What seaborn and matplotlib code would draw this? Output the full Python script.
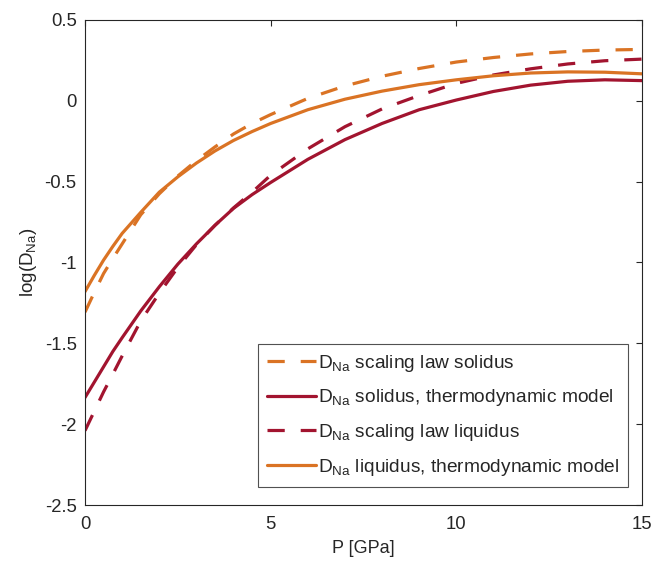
import numpy as np
import pandas as pd
import seaborn as sns
import matplotlib
matplotlib.use("Agg")
import matplotlib.pyplot as plt

# Pressure samples [GPa]
pressure = [0, 0.25, 0.5, 0.75, 1, 1.5, 2, 2.5, 3, 3.5, 4, 4.5, 5, 6, 7, 8, 9, 10, 11, 12, 13, 14, 15]

# log(D_Na) curves
scaling_solidus = [-1.307, -1.185, -1.068, -0.975, -0.885, -0.705, -0.575, -0.465, -0.37, -0.285, -0.205,
                   -0.14, -0.085, 0.015, 0.092, 0.152, 0.20, 0.24, 0.268, 0.29, 0.305, 0.314, 0.318]
thermo_solidus = [-1.835, -1.74, -1.645, -1.55, -1.465, -1.30, -1.15, -1.01, -0.885, -0.77, -0.665,
                  -0.58, -0.505, -0.362, -0.24, -0.14, -0.055, 0.005, 0.058, 0.097, 0.121, 0.13, 0.125]
scaling_liquidus = [-2.04, -1.92, -1.80, -1.69, -1.578, -1.362, -1.19, -1.03, -0.89, -0.77, -0.662,
                    -0.565, -0.46, -0.297, -0.16, -0.05, 0.033, 0.108, 0.16, 0.198, 0.228, 0.248, 0.258]
thermo_liquidus = [-1.18, -1.08, -0.985, -0.90, -0.82, -0.69, -0.565, -0.47, -0.385, -0.31, -0.245,
                   -0.19, -0.14, -0.055, 0.01, 0.06, 0.10, 0.13, 0.155, 0.172, 0.179, 0.177, 0.167]

labels = [
    r"D$_{\mathrm{Na}}$ scaling law solidus",
    r"D$_{\mathrm{Na}}$ solidus, thermodynamic model",
    r"D$_{\mathrm{Na}}$ scaling law liquidus",
    r"D$_{\mathrm{Na}}$ liquidus, thermodynamic model",
]

x_ticks = [0, 5, 10, 15]
y_ticks = [-2.5, -2, -1.5, -1, -0.5, 0, 0.5]
x_tick_labels = ["0", "5", "10", "15"]
y_tick_labels = ["-2.5", "-2", "-1.5", "-1", "-0.5", "0", "0.5"]

ORANGE = "#DA7324"
CRIMSON = "#A2142F"
INK = "#262626"
DASH = (0, (5.4, 5.0))

sns.set_style("white")
plt.rcParams["font.family"] = ["Liberation Sans", "DejaVu Sans"]
plt.rcParams["mathtext.fontset"] = "custom"
plt.rcParams["mathtext.rm"] = "Liberation Sans"
plt.rcParams["mathtext.it"] = "Liberation Sans"

df = pd.DataFrame({
    "P": pressure,
    "scaling_solidus": scaling_solidus,
    "thermo_solidus": thermo_solidus,
    "scaling_liquidus": scaling_liquidus,
    "thermo_liquidus": thermo_liquidus,
})

fig = plt.figure(figsize=(6.55, 5.63), dpi=100)
ax = fig.add_axes([0.1298, 0.1030, 0.8504, 0.8615])

series = [
    ("scaling_solidus", ORANGE, DASH, labels[0]),
    ("thermo_solidus", CRIMSON, "-", labels[1]),
    ("scaling_liquidus", CRIMSON, DASH, labels[2]),
    ("thermo_liquidus", ORANGE, "-", labels[3]),
]
for col, color, ls, lab in series:
    sns.lineplot(data=df, x="P", y=col, ax=ax, color=color, linestyle=ls,
                 linewidth=2.3, label=lab)

ax.set_xlim(0, 15)
ax.set_ylim(-2.5, 0.5)
ax.set_xticks(x_ticks)
ax.set_xticklabels(x_tick_labels)
ax.set_yticks(y_ticks)
ax.set_yticklabels(y_tick_labels)
ax.set_xlabel("P [GPa]", fontsize=13, color=INK, labelpad=5)
ax.set_ylabel(r"log(D$_{\mathrm{Na}}$)", fontsize=13.5, color=INK, labelpad=4)

ax.tick_params(axis="both", direction="in", length=4, width=0.8, color=INK,
               labelsize=13.3, labelcolor=INK, top=True, right=True)
ax.tick_params(axis="x", pad=8)
ax.tick_params(axis="y", pad=6)
for sp in ax.spines.values():
    sp.set_visible(True)
    sp.set_color(INK)
    sp.set_linewidth(0.8)

leg = ax.legend(loc="lower right", bbox_to_anchor=(0.975, 0.038), borderaxespad=0,
                fontsize=13.8, frameon=True, fancybox=False, handlelength=2.6,
                handletextpad=0.1, labelspacing=0.72, borderpad=0.45)
leg.get_frame().set_edgecolor(INK)
leg.get_frame().set_linewidth(0.8)
for t in leg.get_texts():
    t.set_color(INK)

fig.savefig("out.png", dpi=100)
